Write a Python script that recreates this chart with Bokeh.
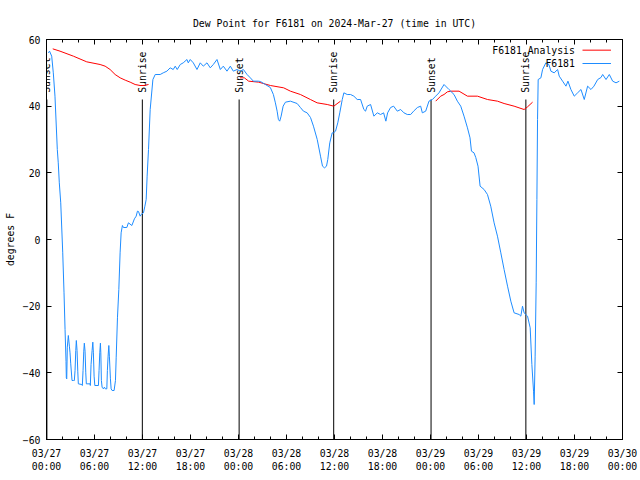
import math
from bokeh.plotting import figure
from bokeh.models import FixedTicker, LinearAxis, Range1d
from bokeh.embed import file_html
from bokeh.resources import INLINE
from bokeh.core.properties import value

NaN = float("nan")

# ---- data (hours since 2024-03-27 00:00 UTC, dew point in degrees F) ----
obs_hours = [
    0.23, 0.38, 0.65, 0.85, 1.06, 1.35, 1.47, 1.60, 1.78, 2.03, 2.19, 2.32, 2.44, 2.48,
    2.53, 2.60, 2.73, 2.86, 2.94, 3.03, 3.19, 3.36, 3.48, 3.57, 3.66, 3.73, 3.82, 3.91,
    3.98, 4.41, 4.48, 4.57, 4.66, 4.73, 4.82, 4.91, 4.98, 5.45, 5.48, 5.57, 5.70, 5.79,
    5.86, 5.95, 6.04, 6.49, 6.57, 6.66, 6.74, 6.79, 6.86, 6.95, 7.11, 7.24, 7.36, 7.54,
    7.61, 7.70, 7.79, 7.86, 7.99, 8.08, 8.20, 8.45, 8.62, 8.71, 8.87, 9.04, 9.20, 9.33,
    9.49, 9.62, 10.04, 10.24, 10.67, 10.99, 11.21, 11.37, 11.50, 11.71, 11.83, 12.12,
    12.30, 12.46, 12.58, 12.75, 12.96, 13.30, 13.59, 14.21, 14.59, 15.05, 15.46, 15.84,
    16.09, 16.34, 16.72, 17.09, 17.56, 17.72, 17.97, 18.35, 18.81, 19.22, 19.60, 20.06,
    20.47, 20.85, 21.31, 21.73, 22.10, 22.56, 22.98, 23.35, 23.82, 24.23, 24.61, 25.07,
    25.48, 25.86, 26.48, 26.74, 27.36, 27.98, 28.36, 28.61, 28.83, 28.99, 29.15, 29.33,
    29.58, 29.87, 30.49, 31.33, 31.74, 32.12, 32.58, 33.00, 33.37, 33.84, 34.25, 34.50,
    34.75, 35.00, 35.16, 35.41, 35.71, 35.88, 36.13, 36.41, 36.66, 36.97, 37.17, 37.59,
    38.01, 38.42, 38.84, 39.26, 39.67, 39.88, 40.09, 40.51, 40.92, 41.35, 41.76, 42.14,
    42.42, 42.64, 43.01, 43.39, 43.85, 44.27, 44.68, 45.10, 45.52, 45.89, 46.36, 46.77,
    46.98, 47.40, 47.81, 48.24, 48.65, 49.06, 49.69, 50.31, 50.94, 51.36, 51.78, 52.19,
    52.62, 52.94, 53.12, 53.44, 53.66, 53.94, 54.20, 54.70, 55.12, 55.53, 55.95, 56.37,
    56.79, 57.20, 57.63, 58.04, 58.45, 59.08, 59.29, 59.50, 59.70, 60.13, 60.46, 60.67,
    60.88, 60.96, 61.08, 61.21, 61.30, 61.38, 61.46, 61.80, 62.01, 62.42, 62.80, 63.05,
    63.46, 63.89, 64.09, 64.51, 64.93, 65.18, 65.55, 65.97, 66.39, 66.81, 67.22, 67.64,
    68.06, 68.43, 68.90, 69.31, 69.52, 69.94, 70.35, 70.77, 71.19, 71.60,
]
obs_dewpt = [
    56.0, 56.5, 55.0, 50.0, 43.0, 27.0, 23.0, 17.0, 11.0, -4.0, -16.0, -27.0, -36.6, -41.5,
    -41.8, -32.3, -28.8, -32.0, -34.0, -37.3, -42.3, -42.3, -42.3, -39.3, -33.3, -30.3, -33.3, -39.5,
    -43.3, -43.5, -43.8, -39.3, -33.5, -31.1, -33.5, -40.0, -43.3, -43.3, -43.8, -37.5, -33.3, -30.8,
    -34.0, -41.0, -43.8, -43.8, -39.3, -34.0, -31.1, -34.0, -42.3, -44.3, -44.8, -44.3, -44.8, -44.8,
    -39.3, -35.0, -31.8, -35.0, -41.8, -44.8, -45.3, -45.3, -42.3, -35.5, -23.5, -15.0, -4.0, 2.0,
    4.2, 3.6, 3.6, 5.0, 4.2, 6.2, 7.0, 8.5, 8.4, 7.0, 7.5, 8.0,
    10.0, 12.0, 19.0, 27.0, 39.0, 48.0, 49.5, 49.5, 50.0, 50.5, 51.5, 51.0,
    52.0, 51.0, 52.5, 53.0, 54.0, 53.0, 54.0, 53.0, 51.0, 53.0, 52.0, 53.0,
    51.5, 52.5, 54.0, 51.0, 52.0, 50.5, 52.0, 50.5, 51.0, 50.5, 51.0, 49.5,
    48.5, 47.5, 47.5, 47.4, 46.5, 45.6, 43.5, 41.0, 38.5, 36.0, 35.5, 37.0,
    40.0, 41.2, 41.5, 40.8, 39.6, 38.5, 38.0, 36.6, 34.0, 30.0, 25.0, 22.0,
    21.5, 22.0, 24.0, 29.0, 32.0, 32.0, 32.5, 35.0, 38.0, 42.0, 44.0, 43.5,
    43.5, 43.0, 42.0, 42.0, 39.0, 38.5, 40.0, 40.5, 37.0, 38.0, 37.5, 38.0,
    35.5, 38.0, 39.6, 40.0, 38.5, 39.0, 38.0, 37.5, 37.5, 38.5, 39.6, 40.0,
    38.0, 38.5, 41.5, 42.0, 43.0, 44.0, 46.5, 45.0, 43.5, 41.5, 40.0, 37.0,
    33.5, 30.5, 26.5, 26.0, 24.6, 22.0, 16.0, 15.0, 13.5, 10.0, 5.0, 1.0,
    -4.0, -9.0, -14.0, -18.5, -22.0, -22.5, -23.0, -20.0, -22.0, -23.0, -26.5, -37.5,
    -45.5, -49.5, -35.0, -13.0, 12.0, 36.0, 48.0, 48.5, 51.0, 53.0, 52.5, 50.5,
    50.0, 51.0, 49.0, 47.5, 46.0, 47.5, 45.0, 43.0, 44.0, 45.0, 42.0, 46.0,
    45.0, 46.0, 48.0, 48.6, 49.5, 48.0, 49.5, 47.5, 47.0, 47.5,
]

analysis_hours = [
    0.78, 1.69, 3.36, 5.03, 6.70, 7.33, 7.95, 8.58, 9.21, 9.84, 10.46, 11.08, 11.71, 12.21, 12.75,
    NaN,
    24.17, 24.73, 25.27, 26.52, 27.99, 29.65, 30.49, 31.74, 32.99, 33.83, 35.09, 35.91, 36.75,
    NaN,
    48.65, 49.27, 49.69, 50.11, 50.53, 51.57, 52.62, 53.87, 55.12, 56.37, 57.20, 58.45, 59.70, 60.13, 60.76,
]
analysis_dewpt = [
    57.2, 56.5, 55.0, 53.3, 52.5, 52.0, 51.0, 49.5, 48.5, 47.8, 47.2, 46.5, 46.2, 46.2, 46.5,
    NaN,
    48.5, 48.5, 47.5, 47.2, 46.2, 45.5, 44.5, 43.5, 42.0, 41.0, 40.5, 40.0, 41.5,
    NaN,
    41.5, 43.0, 43.5, 44.3, 44.5, 44.5, 43.0, 43.0, 42.0, 41.5, 40.8, 40.0, 39.0, 39.8, 41.2,
]

sun_event_hours = [0.05, 11.98, 24.08, 35.90, 48.07, 59.92]
sun_event_names = ["Sunset", "Sunrise", "Sunset", "Sunrise", "Sunset", "Sunrise"]

x_tick_hours = [0, 6, 12, 18, 24, 30, 36, 42, 48, 54, 60, 66, 72]
x_tick_labels = [
    "03/27\n00:00", "03/27\n06:00", "03/27\n12:00", "03/27\n18:00",
    "03/28\n00:00", "03/28\n06:00", "03/28\n12:00", "03/28\n18:00",
    "03/29\n00:00", "03/29\n06:00", "03/29\n12:00", "03/29\n18:00",
    "03/30\n00:00",
]
x_minor_hours = list(range(0, 73, 2))
y_ticks = [-60, -40, -20, 0, 20, 40, 60]

series_names = ["F6181 Analysis", "F6181"]

# ---- styling ----
FONT = "DejaVu Sans Mono"
FS = "9.8px"
RED = "#ff0000"
BLUE = "#1e8cff"

p = figure(
    width=640, height=480,
    x_range=Range1d(0, 72), y_range=Range1d(-60, 60),
    output_backend="svg", toolbar_location=None,
    min_border_left=46, min_border_right=18, min_border_top=39, min_border_bottom=41,
    title="Dew Point for F6181 on 2024-Mar-27 (time in UTC)",
)
p.title.text_font = FONT
p.title.text_font_size = FS
p.title.text_font_style = "normal"
p.title.align = "center"
p.title.text_color = "black"
p.title.standoff = 21

p.xgrid.visible = False
p.ygrid.visible = False
p.outline_line_color = "black"
p.outline_line_width = 1
p.outline_line_alpha = 1
p.background_fill_color = "white"
p.border_fill_color = "white"

xt = FixedTicker(ticks=x_tick_hours, minor_ticks=x_minor_hours)
yt = FixedTicker(ticks=y_ticks, minor_ticks=[])

xa = p.xaxis[0]
xa.ticker = xt
xa.major_label_overrides = {h: lab for h, lab in zip(x_tick_hours, x_tick_labels)}
ya = p.yaxis[0]
ya.ticker = yt
ya.axis_label = "degrees F"

def style_axis(ax, labels=True):
    ax.axis_line_color = "black"
    ax.major_tick_line_color = "black"
    ax.minor_tick_line_color = "black"
    ax.major_tick_in = 5
    ax.major_tick_out = 0
    ax.minor_tick_in = 3
    ax.minor_tick_out = 0
    ax.major_label_text_font = FONT
    ax.major_label_text_font_size = FS if labels else "0px"
    ax.major_label_text_color = "black" if labels else None
    ax.axis_label_text_font = FONT
    ax.axis_label_text_font_size = FS
    ax.axis_label_text_font_style = "normal"
    ax.axis_label_text_color = "black"

style_axis(xa)
style_axis(ya)
xa.major_label_standoff = 8
ya.major_label_standoff = 6
ya.axis_label_standoff = 4

top_axis = LinearAxis(ticker=FixedTicker(ticks=x_tick_hours, minor_ticks=x_minor_hours))
style_axis(top_axis, labels=False)
top_axis.major_label_standoff = 0
right_axis = LinearAxis(ticker=FixedTicker(ticks=y_ticks, minor_ticks=[]))
style_axis(right_axis, labels=False)
right_axis.major_label_standoff = 0
p.add_layout(top_axis, "above")
p.add_layout(right_axis, "right")

# sunrise / sunset markers
SUN_TOP = 42
SUN_LABEL_Y = 44
p.segment(x0=sun_event_hours, y0=[SUN_TOP] * len(sun_event_hours),
          x1=sun_event_hours, y1=[-60] * len(sun_event_hours),
          line_color="black", line_width=1)
p.text(x=sun_event_hours, y=[SUN_LABEL_Y] * len(sun_event_hours), text=sun_event_names,
       angle=math.pi / 2, text_align="left", text_baseline="middle",
       text_font=value(FONT), text_font_size=value(FS), text_color="black")

# series
p.line(analysis_hours, analysis_dewpt, line_color=RED, line_width=1)
p.line(obs_hours, obs_dewpt, line_color=BLUE, line_width=1)

# gnuplot-style key (text then sample line), top right
KEY_TEXT_X = 66.05
KEY_LINE_X0 = 67.0
KEY_LINE_X1 = 70.56
KEY_Y = [56.8, 52.8]
p.text(x=[KEY_TEXT_X] * 2, y=KEY_Y, text=series_names, text_align="right",
       text_baseline="middle", text_font=value(FONT), text_font_size=value(FS),
       text_color="black")
for yk, col in zip(KEY_Y, [RED, BLUE]):
    p.line([KEY_LINE_X0, KEY_LINE_X1], [yk, yk], line_color=col, line_width=1)

open("out.html", "w").write(file_html(p, INLINE))
